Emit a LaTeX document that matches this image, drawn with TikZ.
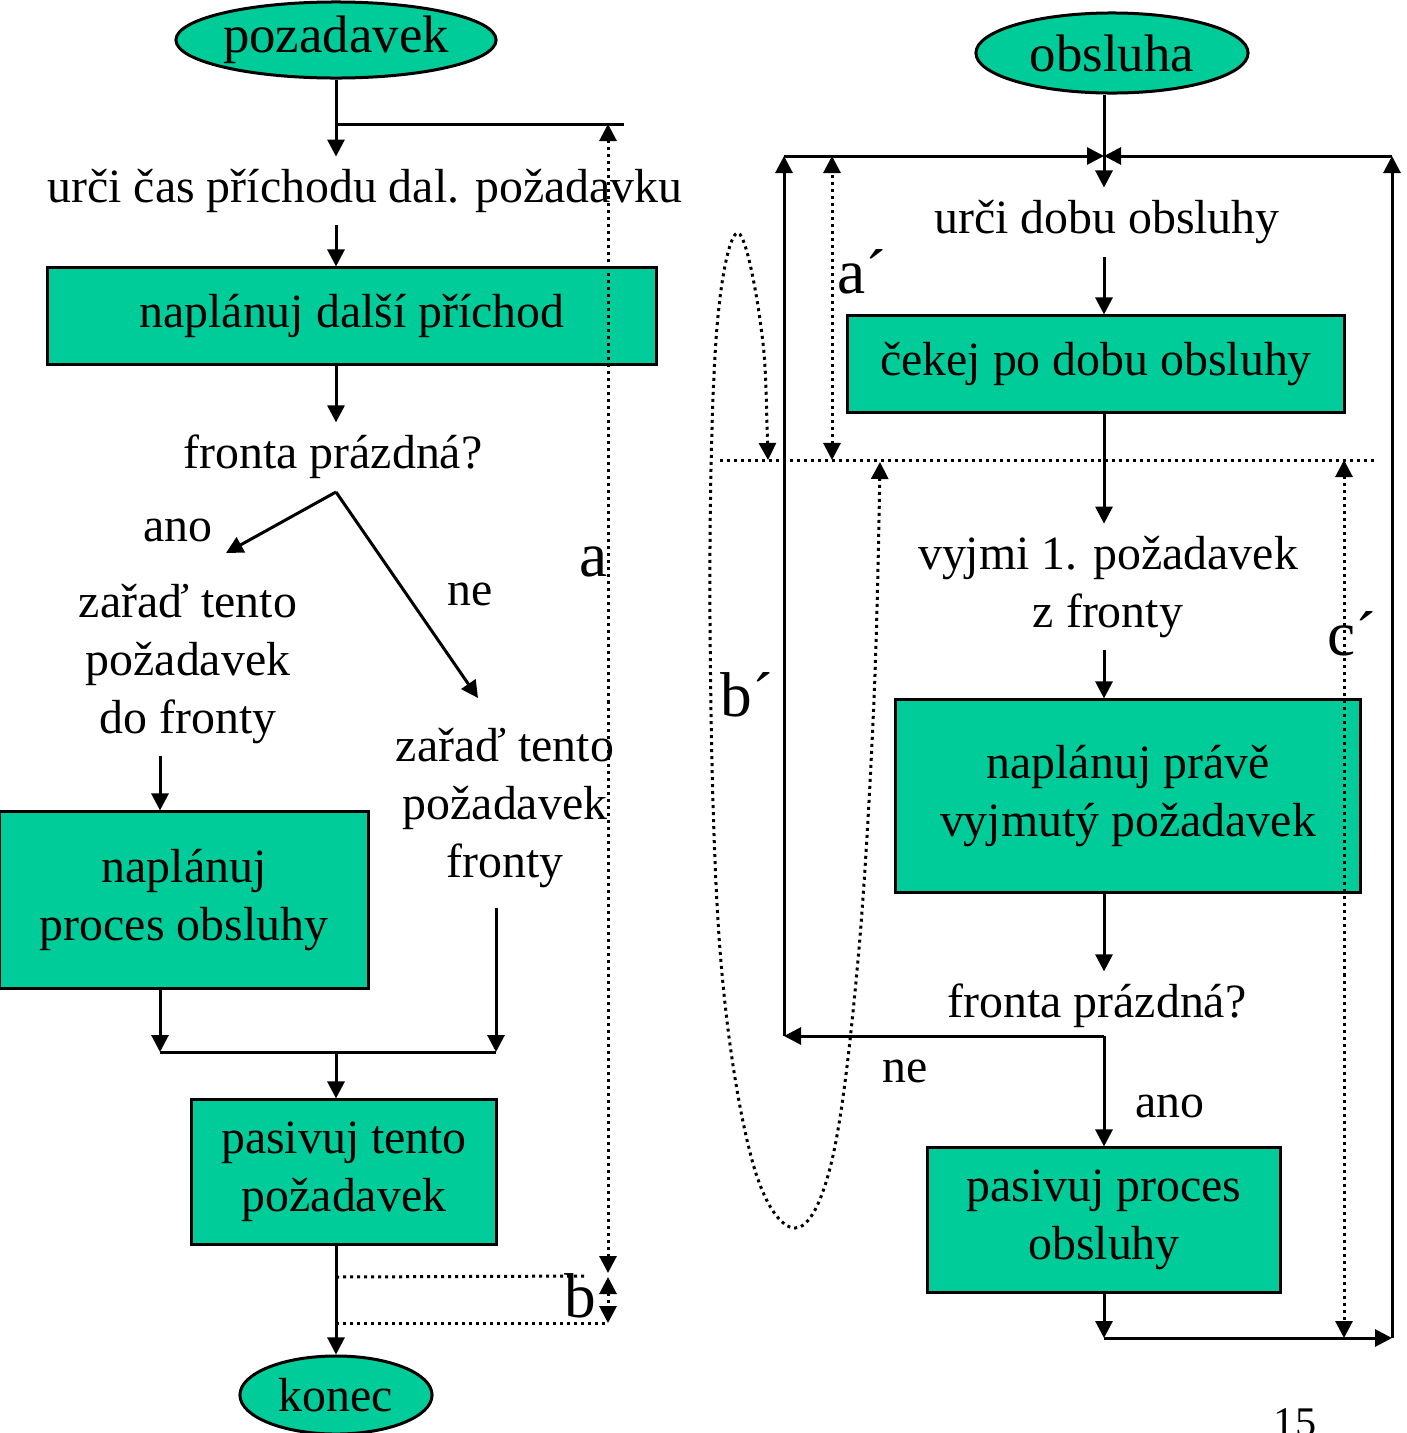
\documentclass[tikz,border=0pt]{standalone}
\usepackage{fontspec}
\setmainfont{Liberation Serif}
\usepackage{tikz}
\usetikzlibrary{positioning, shapes.geometric, arrows.meta}
\definecolor{boxgreen}{RGB}{0,204,153}
\newcommand{\bodyfont}{\fontsize{13.6}{16.4}\selectfont}
\newcommand{\termfont}{\fontsize{15}{17}\selectfont}
\newcommand{\lblfont}{\fontsize{18}{20}\selectfont}

\begin{document}
\begin{tikzpicture}[x=0.01cm, y=-0.01cm,
		box/.style={rectangle, draw, line width=0.03cm, fill=boxgreen, inner sep=0pt, align=center, font=\bodyfont},
		term/.style={ellipse, draw, line width=0.03cm, fill=boxgreen, inner sep=0pt, font=\termfont},
		txt/.style={align=center, inner sep=0.12cm, yshift=-0.04cm, font=\bodyfont},
		lbl/.style={inner sep=0pt, font=\lblfont},
		line/.style={line width=0.03cm},
		arr/.style={line, -{Triangle[length=0.17cm, width=0.17cm]}},
		dots/.style={line, dash pattern=on 0.03cm off 0.04cm},
		dbl/.style={dots, {Triangle[length=0.17cm, width=0.17cm]}-{Triangle[length=0.17cm, width=0.17cm]}}
		]
		\useasboundingbox (0,0) rectangle (1407,1433);
		% Left flow: arrival of requests
		\node[term, minimum width=3.2cm, minimum height=0.76cm] (req) at (336,40) {pozadavek};
		\node[txt] (next) at (365,187) {urči čas příchodu dal. požadavku};
		\node[box, minimum width=6.08cm, minimum height=0.96cm] (plan) at (352,316) {naplánuj další příchod};
		\node[txt] (empty) at (333,453) {fronta prázdná?};
		\node[txt] (enq) at (188,660) {zařaď tento\\požadavek\\do fronty};
		\node[txt] (enqb) at (505,804) {zařaď tento\\požadavek\\fronty};
		\node[box, minimum width=3.68cm, minimum height=1.76cm] (proc) at (184,900) {naplánuj\\proces obsluhy};
		\node[box, minimum width=3.04cm, minimum height=1.44cm] (pas) at (344,1172) {pasivuj tento\\požadavek};
		\node[term, minimum width=1.92cm, minimum height=0.78cm, font=\bodyfont] (end) at (336,1395) {konec};
		\node[txt] (yesL) at (178,526) {ano};
		\node[txt] (noL) at (470,590) {ne};
		% Junctions on the left
		\coordinate (colA) at (160,0);
		\coordinate (loopL) at (336,124);
		\coordinate (loopR) at (624,124);
		\coordinate (fork) at (336,492);
		\coordinate (yes) at (226,553);
		\coordinate (no) at (478,698);
		\coordinate (noDown) at (496,908);
		\coordinate (mergeL) at (160,1052);
		\coordinate (mergeM) at (336,1052);
		\coordinate (mergeR) at (496,1052);
		\draw[line] (req.south) -- (loopL) -- (loopR);
		\draw[arr] (loopL) -- (next.north -| loopL);
		\draw[arr] (next.south -| loopL) -- (plan.north -| loopL);
		\draw[arr] (plan.south -| loopL) -- (empty.north -| loopL);
		\draw[arr] (fork) -- (yes);
		\draw[arr] (fork) -- (no);
		\draw[arr] (enq.south -| colA) -- (proc.north -| colA);
		\draw[arr] (proc.south -| colA) -- (mergeL);
		\draw[arr] (noDown) -- (mergeR);
		\draw[line] (mergeL) -- (mergeR);
		\draw[arr] (mergeM) -- (pas.north -| mergeM);
		\draw[arr] (pas.south -| mergeM) -- (end.north);
		% Time spans a and b
		\coordinate (aTop) at (608,124);
		\coordinate (aBot) at (608,1273);
		\coordinate (bTop) at (608,1277);
		\coordinate (bBot) at (608,1323);
		\draw[dots] (mergeM |- bTop) -- (588,1276);
		\draw[dots] (mergeM |- bBot) -- (bBot);
		\draw[dbl] (aBot) -- (aTop);
		\draw[dbl] (bTop) -- (bBot);
		\node[lbl] (la) at (594,562) {a};
		\node[lbl] (lb) at (580,1296) {b};
		% Right flow: service process
		\node[term, minimum width=2.72cm, minimum height=0.8cm] (srv) at (1112,53) {obsluha};
		\node[txt] (dur) at (1107,218) {urči dobu obsluhy};
		\node[box, minimum width=4.96cm, minimum height=0.96cm] (wait) at (1096,364) {čekej po dobu obsluhy};
		\node[txt] (deq) at (1108,583) {vyjmi 1. požadavek\\z fronty};
		\node[box, minimum width=4.64cm, minimum height=1.92cm] (planb) at (1128,796) {naplánuj právě\\vyjmutý požadavek};
		\node[txt] (emptyb) at (1097,1002) {fronta prázdná?};
		\node[box, minimum width=3.52cm, minimum height=1.44cm] (pasb) at (1104,1220) {pasivuj proces\\obsluhy};
		\node[txt] (noR) at (905,1067) {ne};
		\node[txt] (yesR) at (1170,1102) {ano};
		% Junctions on the right
		\coordinate (colB) at (1104,0);
		\coordinate (top) at (1104,156);
		\coordinate (topL) at (784,156);
		\coordinate (topR) at (1392,156);
		\coordinate (noB) at (1104,1036);
		\coordinate (noBL) at (784,1036);
		\coordinate (botL) at (1104,1338);
		\coordinate (botR) at (1392,1338);
		\draw[arr] (srv.south -| colB) -- (dur.north -| colB);
		\draw[arr] (topL) -- (top);
		\draw[arr] (topR) -- (top);
		\draw[arr] (dur.south -| colB) -- (wait.north -| colB);
		\draw[arr] (wait.south -| colB) -- (deq.north -| colB);
		\draw[arr] (deq.south -| colB) -- (planb.north -| colB);
		\draw[arr] (planb.south -| colB) -- (emptyb.north -| colB);
		\draw[line] (emptyb.south -| colB) -- (noB);
		\draw[arr] (noB) -- (noBL);
		\draw[arr] (noBL) -- (topL);
		\draw[arr] (noB) -- (pasb.north -| colB);
		\draw[arr] (pasb.south -| colB) -- (botL);
		\draw[arr] (botL) -- (botR);
		\draw[arr] (botR) -- (topR);
		% Time spans a', b' and c'
		\coordinate (cutL) at (720,460);
		\coordinate (cutR) at (1375,460);
		\draw[dots] (cutL) -- (cutR);
		\draw[dbl] (832,460) -- (832,156);
		\draw[dbl] (1344,460) -- (1344,1338);
		\draw[dbl] plot[smooth, tension=0.6] coordinates {(768,460) (760,320) (737,233) (716,340) (710,620) (720,950) (752,1160) (795,1228) (832,1160) (858,960) (874,700) (880,462)};
		\node[lbl] (lap) at (862,272) {a´};
		\node[lbl] (lbp) at (747,695) {b´};
		\node[lbl] (lcp) at (1352,634) {c´};
		% Page number
		\node[anchor=north, inner sep=0pt, font=\fontsize{12}{14}\selectfont] (page) at (1295,1408) {15};
	\end{tikzpicture}
\end{document}
